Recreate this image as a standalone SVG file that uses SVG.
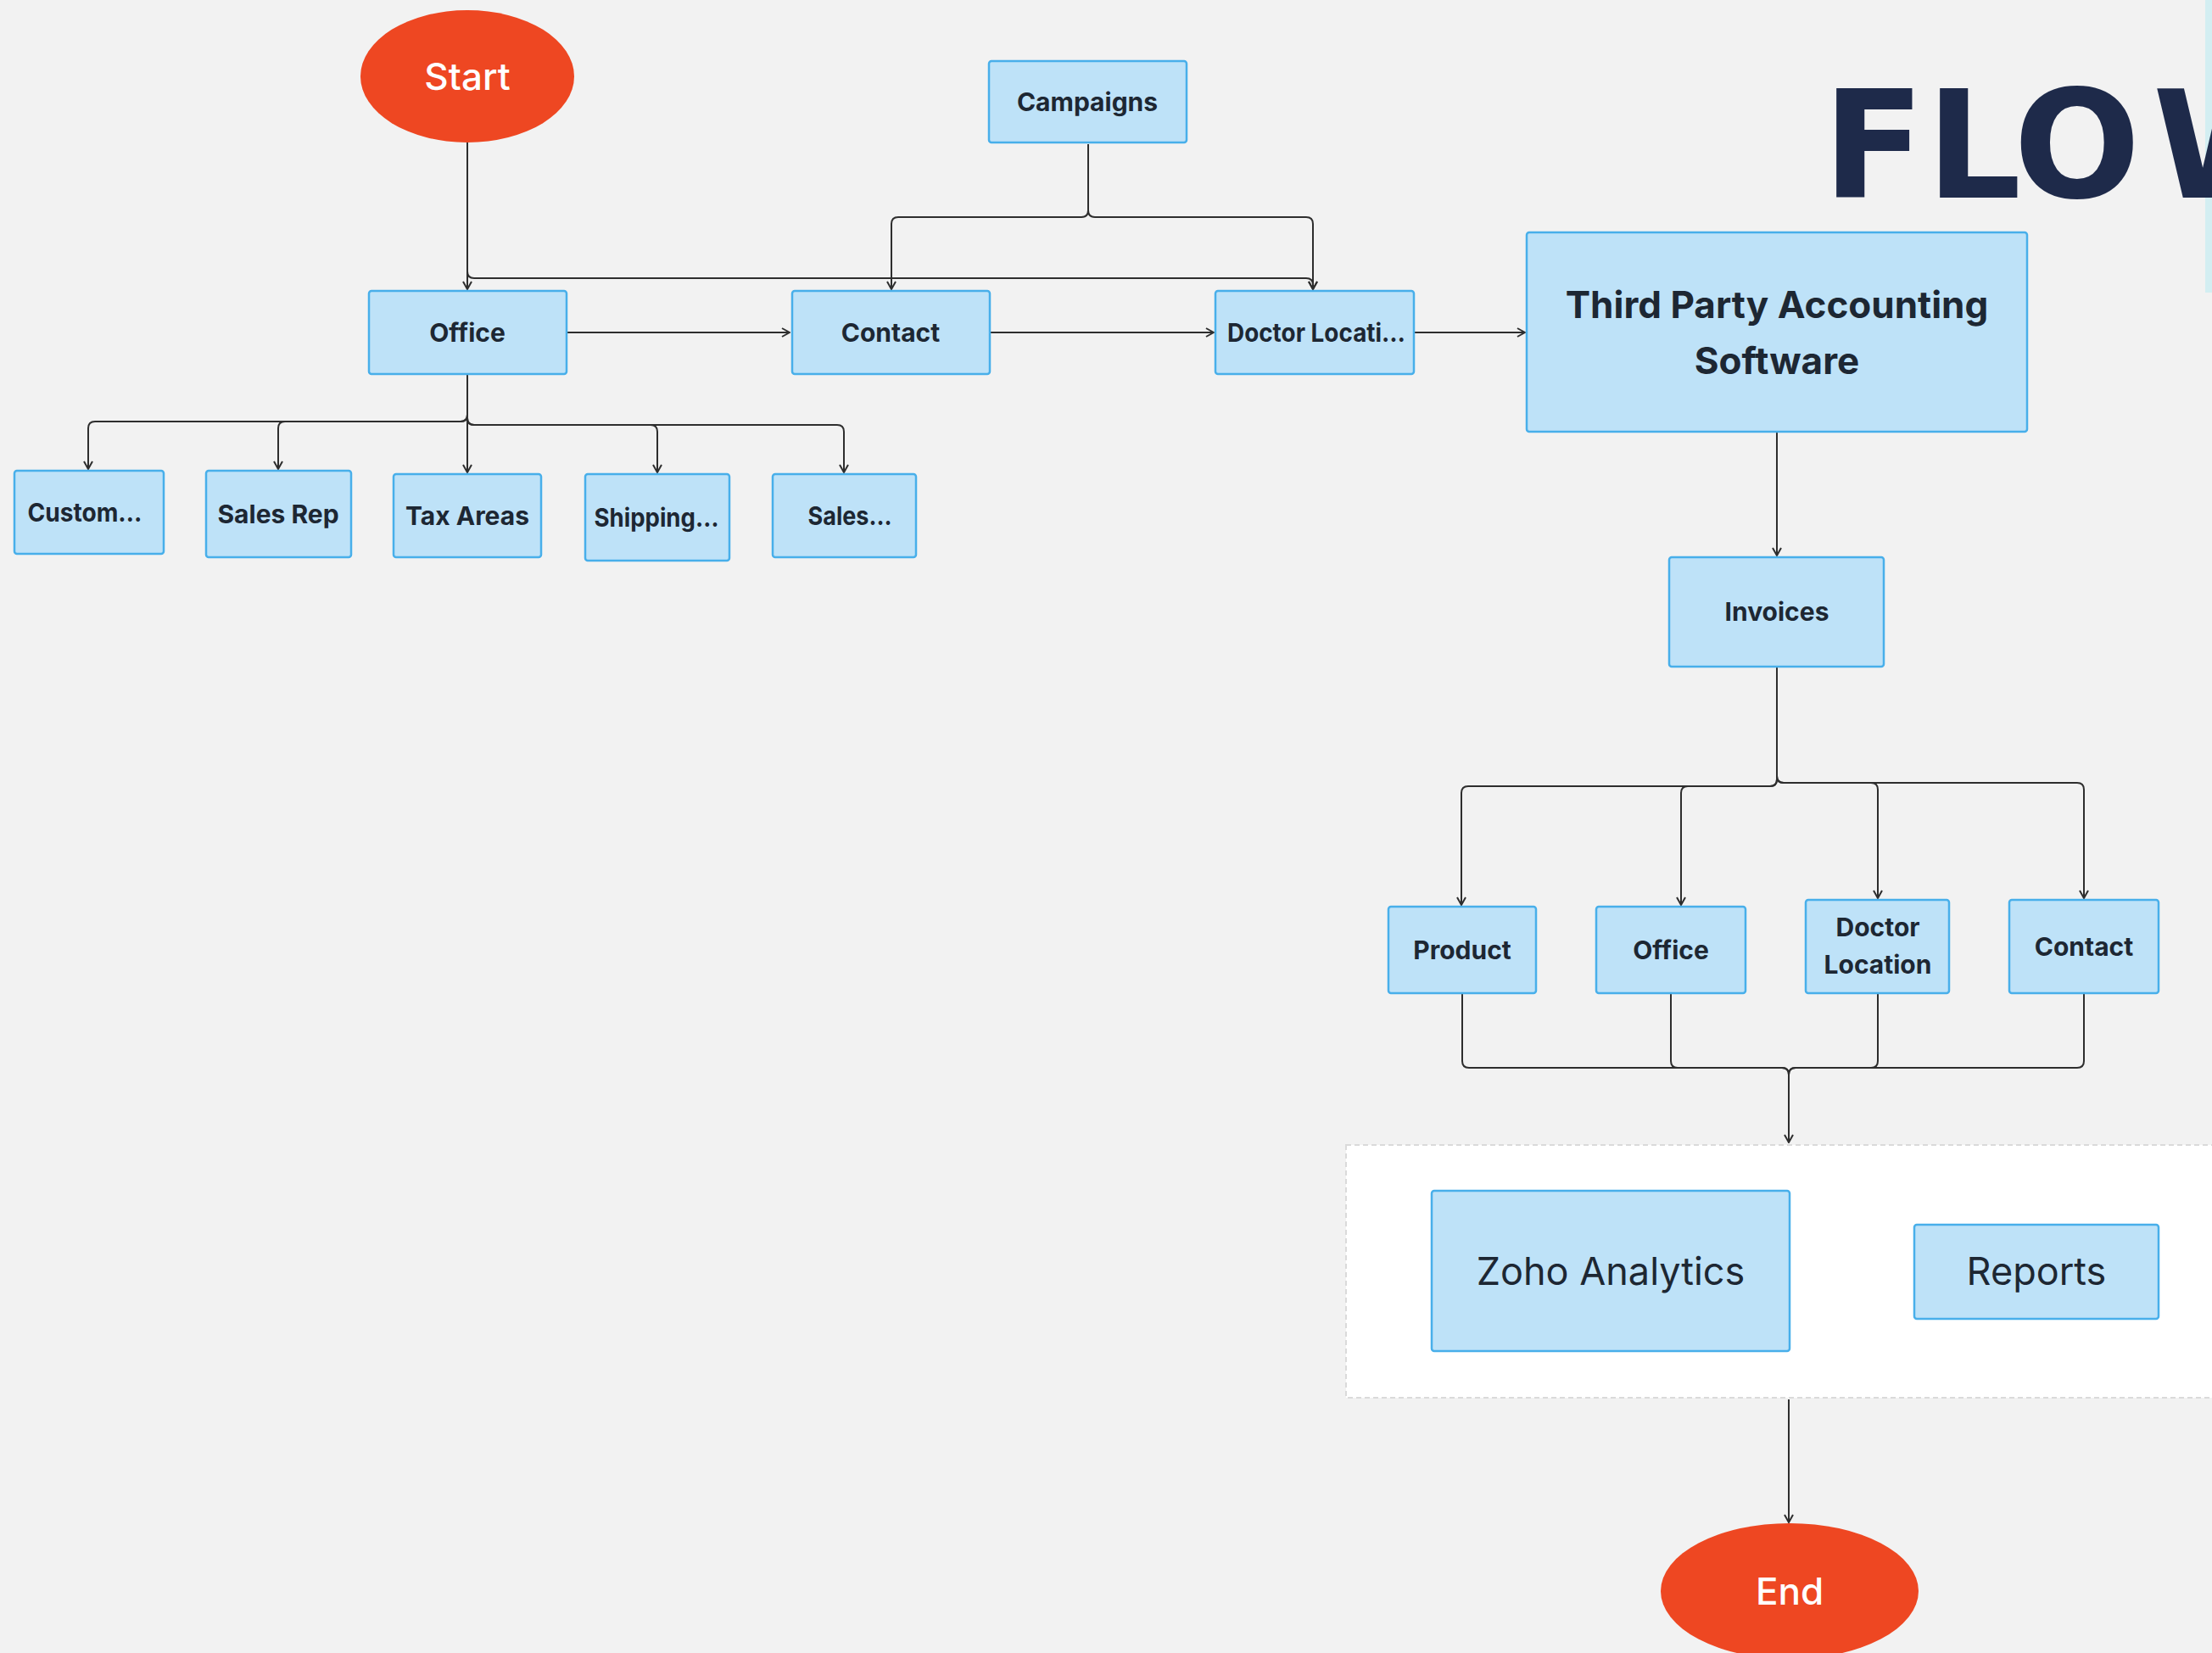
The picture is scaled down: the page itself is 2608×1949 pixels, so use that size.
<svg xmlns="http://www.w3.org/2000/svg" width="2608" height="1949" viewBox="0 0 2608 1949">
<style>
.box{fill:#BEE2F8;stroke:#48AFEA;stroke-width:2.5}
.lbl{font-family:Inter,"Liberation Sans",sans-serif;font-weight:700;font-size:30px;fill:#1D2733;text-anchor:middle}
.lbl44{font-family:Inter,"Liberation Sans",sans-serif;font-weight:700;font-size:44px;fill:#1D2733;text-anchor:middle}
.big{font-family:Inter,"Liberation Sans",sans-serif;font-weight:400;font-size:45px;fill:#1D2733;text-anchor:middle}
.term{fill:#EE4722}
.tt{font-family:Inter,"Liberation Sans",sans-serif;font-weight:500;font-size:44px;fill:#FFFFFF;text-anchor:middle}
.con{fill:none;stroke:#2E2E2E;stroke-width:2}
.flow{font-family:"DejaVu Sans",Inter,sans-serif;font-weight:700;font-size:176px;fill:#1E2A4A}
</style>
<defs>
<marker id="arr" viewBox="0 0 12 12" refX="11" refY="6" markerWidth="12" markerHeight="12" markerUnits="userSpaceOnUse" orient="auto">
<path d="M2,1 L11,6 L2,11" fill="none" stroke="#2E2E2E" stroke-width="2"/>
</marker>
</defs>
<rect x="0" y="0" width="2608" height="1949" fill="#F2F2F2"/>
<rect x="2600" y="0" width="8" height="345" fill="#D3EEF2"/>
<g id="title"><text class="flow" y="233"><tspan x="2149">F</tspan><tspan x="2271">L</tspan><tspan x="2374">O</tspan><tspan x="2538">W</tspan></text></g>

<g id="panel">
<rect x="1587" y="1350" width="1040" height="298" fill="#FFFFFF" stroke="#DADADA" stroke-width="2" stroke-dasharray="6 4"/>
</g>

<g id="connectors">
<path class="con" d="M551,168 V341" marker-end="url(#arr)"/>
<path class="con" d="M551,168 V320 Q551,328 559,328 H1540 Q1548,328 1548,336 V341" marker-end="url(#arr)"/>
<path class="con" d="M1283,170 V248 Q1283,256 1275,256 H1059 Q1051,256 1051,264 V341" marker-end="url(#arr)"/>
<path class="con" d="M1283,170 V248 Q1283,256 1291,256 H1540 Q1548,256 1548,264 V341" marker-end="url(#arr)"/>
<path class="con" d="M669,392 H931" marker-end="url(#arr)"/>
<path class="con" d="M1167,392 H1431" marker-end="url(#arr)"/>
<path class="con" d="M1667,392 H1798" marker-end="url(#arr)"/>
<path class="con" d="M551,441 V489 Q551,497 543,497 H112 Q104,497 104,505 V553" marker-end="url(#arr)"/>
<path class="con" d="M551,441 V489 Q551,497 543,497 H336 Q328,497 328,505 V553" marker-end="url(#arr)"/>
<path class="con" d="M551,441 V557" marker-end="url(#arr)"/>
<path class="con" d="M551,441 V493 Q551,501 559,501 H767 Q775,501 775,509 V557" marker-end="url(#arr)"/>
<path class="con" d="M551,441 V493 Q551,501 559,501 H987 Q995,501 995,509 V557" marker-end="url(#arr)"/>
<path class="con" d="M2095,510 V655" marker-end="url(#arr)"/>
<path class="con" d="M2095,786 V919 Q2095,927 2087,927 H1731 Q1723,927 1723,935 V1067" marker-end="url(#arr)"/>
<path class="con" d="M2095,786 V919 Q2095,927 2087,927 H1990 Q1982,927 1982,935 V1067" marker-end="url(#arr)"/>
<path class="con" d="M2095,786 V915 Q2095,923 2103,923 H2206 Q2214,923 2214,931 V1059" marker-end="url(#arr)"/>
<path class="con" d="M2095,786 V915 Q2095,923 2103,923 H2449 Q2457,923 2457,931 V1059" marker-end="url(#arr)"/>
<path class="con" d="M1724,1171 V1251 Q1724,1259 1732,1259 H2101 Q2109,1259 2109,1267 V1347" marker-end="url(#arr)"/>
<path class="con" d="M1970,1171 V1251 Q1970,1259 1978,1259 H2101 Q2109,1259 2109,1267 V1347"/>
<path class="con" d="M2214,1171 V1251 Q2214,1259 2206,1259 H2117 Q2109,1259 2109,1267 V1347"/>
<path class="con" d="M2457,1171 V1251 Q2457,1259 2449,1259 H2117 Q2109,1259 2109,1267 V1347"/>
<path class="con" d="M2109,1650 V1795" marker-end="url(#arr)"/>
</g>

<g id="start"><ellipse class="term" cx="551" cy="90" rx="126" ry="78"/><text class="tt" x="551" y="106">Start</text></g>
<g id="campaigns"><rect class="box" x="1166" y="72" width="233" height="96" rx="3"/><text class="lbl" x="1282" y="131">Campaigns</text></g>
<g id="office"><rect class="box" x="435" y="343" width="233" height="98" rx="3"/><text class="lbl" x="551" y="403">Office</text></g>
<g id="contact"><rect class="box" x="934" y="343" width="233" height="98" rx="3"/><text class="lbl" x="1050" y="403">Contact</text></g>
<g id="doctor-location"><rect class="box" x="1433" y="343" width="234" height="98" rx="3"/><text class="lbl" x="1552" y="403" textLength="210" lengthAdjust="spacingAndGlyphs">Doctor Locati…</text></g>
<g id="third-party"><rect class="box" x="1800" y="274" width="590" height="235" rx="3"/><text class="lbl44" x="2095" y="375">Third Party Accounting</text><text class="lbl44" x="2095" y="441">Software</text></g>
<g id="customers"><rect class="box" x="17" y="555" width="176" height="98" rx="3"/><text class="lbl" x="100" y="615" textLength="135" lengthAdjust="spacingAndGlyphs">Custom…</text></g>
<g id="sales-rep"><rect class="box" x="243" y="555" width="171" height="102" rx="3"/><text class="lbl" x="328" y="617">Sales Rep</text></g>
<g id="tax-areas"><rect class="box" x="464" y="559" width="174" height="98" rx="3"/><text class="lbl" x="551" y="619">Tax Areas</text></g>
<g id="shipping"><rect class="box" x="690" y="559" width="170" height="102" rx="3"/><text class="lbl" x="774" y="621" textLength="147" lengthAdjust="spacingAndGlyphs">Shipping…</text></g>
<g id="sales"><rect class="box" x="911" y="559" width="169" height="98" rx="3"/><text class="lbl" x="1002" y="619" textLength="99" lengthAdjust="spacingAndGlyphs">Sales…</text></g>
<g id="invoices"><rect class="box" x="1968" y="657" width="253" height="129" rx="3"/><text class="lbl" x="2095" y="732">Invoices</text></g>
<g id="product"><rect class="box" x="1637" y="1069" width="174" height="102" rx="3"/><text class="lbl" x="1724" y="1131">Product</text></g>
<g id="office-2"><rect class="box" x="1882" y="1069" width="176" height="102" rx="3"/><text class="lbl" x="1970" y="1131">Office</text></g>
<g id="doctor-location-2"><rect class="box" x="2129" y="1061" width="169" height="110" rx="3"/><text class="lbl" x="2214" y="1104">Doctor</text><text class="lbl" x="2214" y="1148">Location</text></g>
<g id="contact-2"><rect class="box" x="2369" y="1061" width="176" height="110" rx="3"/><text class="lbl" x="2457" y="1127">Contact</text></g>
<g id="zoho"><rect class="box" x="1688" y="1404" width="422" height="189" rx="3"/><text class="big" x="1899" y="1515">Zoho Analytics</text></g>
<g id="reports"><rect class="box" x="2257" y="1444" width="288" height="111" rx="3"/><text class="big" x="2401" y="1515">Reports</text></g>
<g id="end"><ellipse class="term" cx="2110" cy="1876" rx="152" ry="80"/><text class="tt" x="2110" y="1892">End</text></g>
</svg>
